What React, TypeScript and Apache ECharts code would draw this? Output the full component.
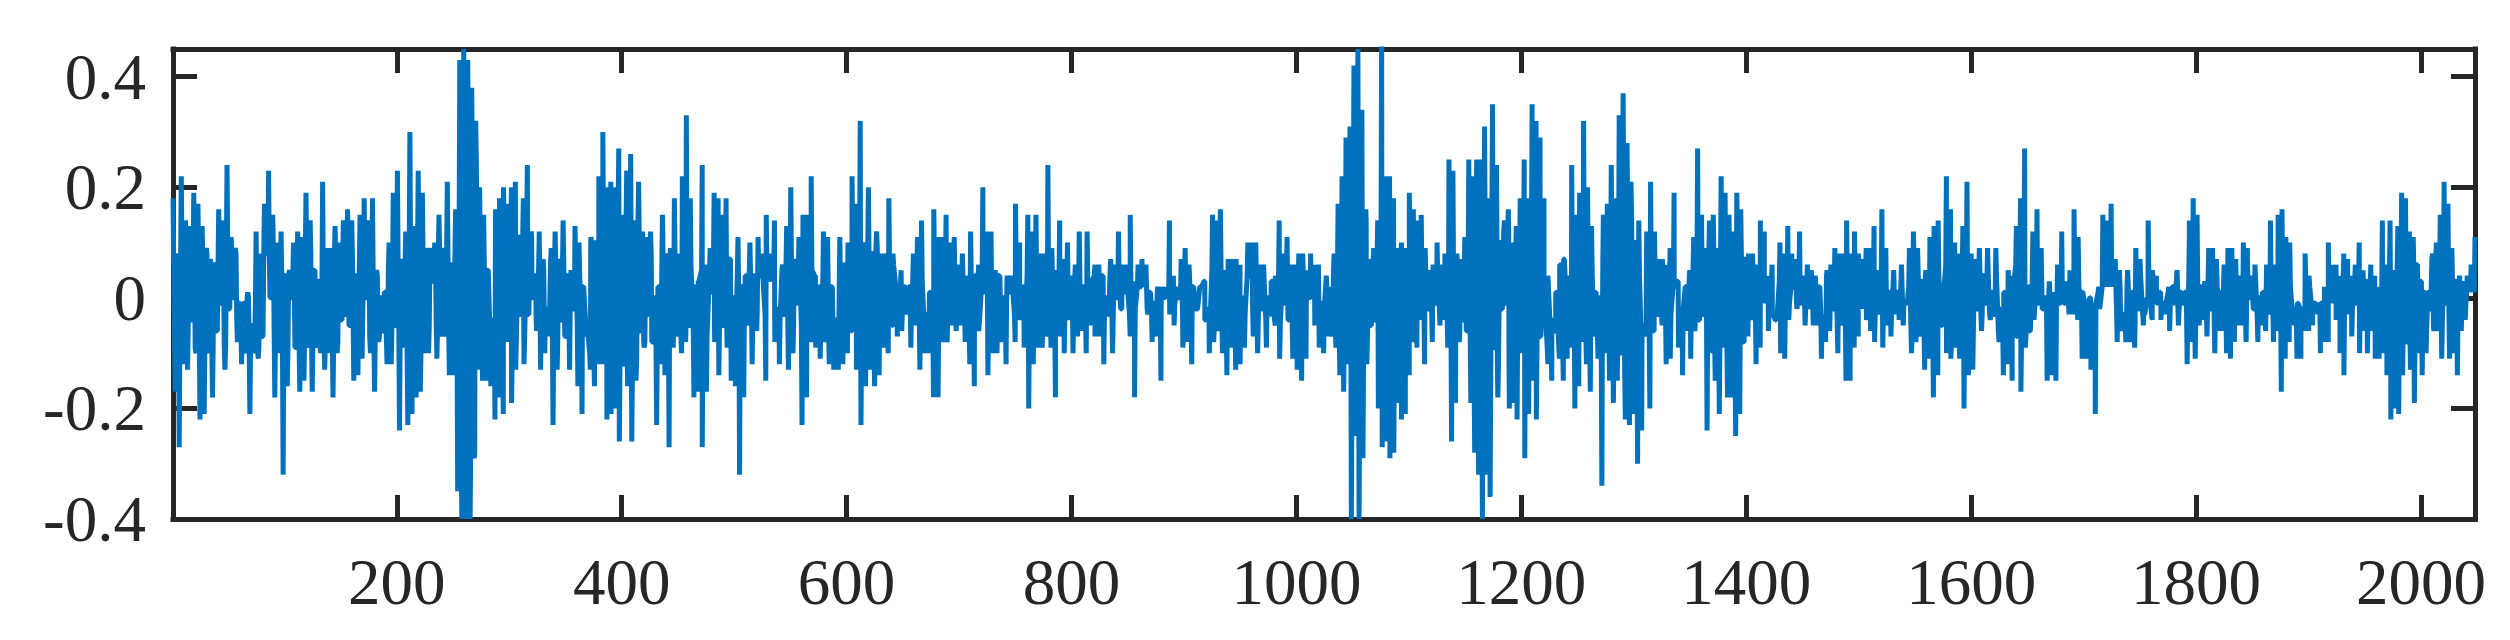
import React, { useEffect, useRef } from "react";
import * as echarts from "echarts";

const segmentEdges = [1, 256, 514, 772, 1030, 1287, 1545, 1794, 2048];

const peaks1 = [18,8,22,14,13,19,17,13,9,7,6,16,14,24,11,9,-1,-1,1,-5,12,8,17,23,15,10,12,4,5,10,12,11,19,14,5,3,21,9,9,13,10,14,16,14,4,15,18,14,18,5,0,1,10,19,23,7,12,30,13,23,19,9,9,10,15,9,21,6,16,43];
const troughs1 = [-17,-27,-12,-13,-4,-10,-22,-21,-10,-18,-6,-1,-13,-2,0,-8,-12,-10,-21,-10,-11,-7,8,0,-18,-10,-32,-16,0,-9,-17,-15,-9,-17,-9,-10,-13,-10,-18,-10,-4,-3,-5,-15,-14,-11,0,-10,-17,-8,-6,-12,-12,-5,-24,-9,-23,-21,-18,-17,-10,-10,3,-11,-7,-7,-14,-14,-35];
const bandTop1 = [7,8,6,8,0,8,4,8,3,8,6,4,6,8,8,8];
const bandBottom1 = [-5,-9,-9,-4,-9,-6,-9,-8,-8,-8,-3,-7,-6,-10,-5,-6];

const peaks2 = [29,45,43,38,32,20,15,5,-4,16,18,20,17,20,21,11,18,24,12,4,12,7,-2,9,12,7,14,4,5,13,10,2,-6,11,10,22,30,20,21,20,27,15,23,26,14,21,12,11,12,0,2,15,8,9,18,8,22,33,18,2,3,24,6,9,19,18,15,18,7,0,11,2,4,10];
const troughs2 = [-40,-40,-40,-29,-13,-15,-15,-16,-22,-18,-21,-8,-19,-13,-3,-12,-3,0,-6,-13,-10,-7,-23,-13,-4,-7,-13,-2,-16,-21,-7,-13,-16,-12,-12,-22,-21,-20,-26,-12,-16,-26,-15,-6,-9,-3,-8,-23,-12,-14,-27,-9,-7,-10,-8,-5,-18,-17,-27,-17,1,-8,-14,-5,-9,-15,-16,-32,-18,-5];
const bandTop2 = [25,6,12,11,5,6,4,10,13,13,8,7,6,5,7,4];
const bandBottom2 = [-28,-8,-10,-7,-3,-7,-4,-10,-11,-12,-8,-5,-6,-7,-5,-4];

const peaks3 = [10,4,11,8,15,8,14,-2,6,13,20,7,11,15,15,22,4,2,12,11,2,-4,11,6,10,22,17,32,10,20,8,12,8,8,18,8,1,5,2,2,8,11,14,-3,1,16,11,11,15,10,11,6,8,4,12,4,6,20,12,12,5,4,0,4,4,17,10,2,15,12,15,8];
const troughs3 = [-12,-6,4,-15,3,-8,-12,-3,-13,-10,-1,-23,-18,-8,-9,-11,-8,-12,-13,-13,-12,-10,-6,-13,-23,-16,-13,-16,-14,-9,-10,-5,-7,-6,-3,-9,-5,-13,-10,-10,-18,-18,-8,-8,-5,-6,-5,-8,-12,-16,-6,1,-14,-10,-10,-8,-12,1,-8,-4,-9,-20,-12,-9];
const bandTop3 = [4,5,6,5,3,7,9,6,2,3,5,3,4,4,3,4];
const bandBottom3 = [-3,-4,-5,-5,-6,-6,-7,-5,-2,-3,-4,-3,-4,-4,-3,-5];

const peaks4 = [4,8,24,9,5,14,7,10,4,6,12,2,12,3,6,6,4,0,7,6,12,6,6,15,3,6,7,6,1,-1,2,2,2,14,4,2,7,9,6,2,-2,2,3,-2,15,14,16,5,7,7,7,6,0,10,10,10,6,6,0,3,4,14,8,11,6,6,8,8,5,8,6,6,-1,4,1];
const troughs4 = [-9,-7,-9,-18,-7,-10,-4,-10,-7,-6,-10,-5,-7,-7,-12,-3,-10,0,-2,1,-7,-18,2,3,-3,-8,-7,-15,0,-3,-5,0,-9,-8,-12,-2,2,-4,-10,-8,-6,-10,-14,-9,-13,-12,-9,4,-7,-10,-2,-9,-3,-5,-11,-1,-4,-11,-13,-15,-11,0,-5,-9,-10,-7];
const bandTop4 = [4,3,3,4,3,2,1,1,3,5,3,4,3,4,3,2];
const bandBottom4 = [-4,-3,-3,-3,-3,-2,-2,-1,-3,-5,-3,-3,-4,-5,-4,-2];

const peaks5 = [2,8,17,22,29,31,42,45,34,16,7,9,14,50,22,22,18,9,10,9,19,16,14,15,9,5,6,10,6,8,25,23,8,7,11,25,22,25,25,31,18,35,24,10,14,16,10,13,18,25,18,35,32,29,18,4,-4,1,6,7,4,24,15,19,32,20,13,1,0,15,17,24,18,32];
const troughs5 = [-7,-9,-14,-17,-12,-40,-25,-40,-29,-12,-5,-4,-20,-27,-26,-29,-28,-19,-22,-21,-14,-8,-9,-4,-12,-2,-8,-1,-5,-4,-9,-26,-19,-8,-4,-6,-19,-28,-32,-40,-32,-36,-9,-18,-2,-1,-20,-19,-22,-10,-29,-21,-15,-22,-7,2,-12,-15,-6,-11,-15,-11,-9,-20,-16,-8,-12,-17,-7,-11,-34,-10,-15,-19,-15];
const bandTop5 = [5,14,6,7,4,3,3,5,12,12,5,7,10,3,5,7];
const bandBottom5 = [-6,-10,-7,-9,-4,-2,-2,-6,-13,-12,-3,-8,-9,-3,-6,-6];

const peaks6 = [33,37,28,21,10,14,-5,12,21,12,7,7,6,9,19,3,-2,2,5,11,27,15,9,14,15,9,22,19,15,12,19,16,7,8,8,6,14,12,4,6,-4,10,8,13,8,7,12,4,6,5,4,2,-4,5,6,9,8,8,14,8,12,8,7,9,9,13,5,16,9,1,5,1,6,-1,8];
const troughs6 = [-10,-22,-23,-21,-30,-24,-7,-20,-6,-3,-5,-12,-11,2,-9,-14,-6,-11,-6,-4,-3,-24,-10,-15,-21,-9,-18,-18,-25,-21,-8,-7,-4,-12,-9,-1,-6,-3,-4,-10,-11,-4,2,-2,-1,-5,-2,-5,-5,-11,-8,-6,-2,-10,-5,-15,-15,-9,-7,-2,-4,-6,-8,-3,-9,-5,-7,-3,-4,-5,-1];
const bandTop6 = [14,4,4,3,5,7,7,4,3,2,1,4,4,5,3,2];
const bandBottom6 = [-13,-6,-3,-2,-4,-7,-9,-3,-3,-1,-1,-3,-4,-3,-2,-1];

const peaks7 = [9,12,9,3,5,11,13,14,-1,22,16,10,8,13,21,8,7,9,4,9,1,9,-2,1,5,4,13,18,27,2,12,16,9,0,3,1,6,12,3,5,16,11,1,-4,0,-4,2,15,14,17,7,5,-3,5,1,9,7,-3,14,5,4,1,-1,2,2,5,1,1,11];
const troughs7 = [-10,-8,-7,-13,-11,-18,-14,-5,-10,-11,-9,-11,-20,-14,-13,-2,-6,-1,-4,-3,-8,-14,-12,-15,-7,-17,-9,-6,-4,-1,-2,-15,-14,-15,-1,-1,-3,-3,-4,-11,-11,-13,-21,-2,4,6,4,-8,-6,-8,-8,-9,-2,-5,0,-4,-1,-4,-3,-6,-1,-5,-1,-12];
const bandTop7 = [4,4,6,4,4,1,6,3,0,2,1,2,2,4,1,3];
const bandBottom7 = [-5,-6,-7,-5,-3,-6,-7,-2,-2,-1,-1,-2,-5,-3,-1,-2];

const peaks8 = [14,18,15,2,3,9,9,7,1,6,9,9,7,4,10,9,4,6,0,1,6,14,6,15,16,11,10,-2,-1,-2,8,4,-1,-2,-1,2,10,6,6,4,8,7,4,6,10,5,3,6,4,2,14,6,14,5,13,19,18,12,11,6,3,1,1,8,10,15,21,17,9,3,4,3,4,6,11];
const troughs8 = [-8,-11,-5,-4,-7,-2,-10,-6,-6,-10,-11,-8,-5,-5,-8,0,-2,-8,-5,-6,-3,-8,-6,-17,-11,-8,-5,-11,-11,-6,-6,-5,-3,-10,-8,-8,-1,-4,-10,-14,-3,-7,-1,-10,-6,-10,-6,-11,-11,-10,-14,-22,-20,-21,-14,-8,-13,-19,-10,-14,-10,-2,-6,-6,-11,-1,-11,-10,-14,-6,-4,3,3];
const bandTop8 = [2,3,2,3,2,2,2,1,2,3,1,4,7,7,4,1];
const bandBottom8 = [-2,-3,-2,-3,-2,-3,-2,-1,-1,-2,-1,-4,-8,-5,-4,-1];

const yTickValues = [-0.4, -0.2, 0, 0.2, 0.4];
const yTickLabels = ["-0.4", "-0.2", "0", "0.2", "0.4"];
const xTickValues = [200, 400, 600, 800, 1000, 1200, 1400, 1600, 1800, 2000];

const segments = [
  { hi: peaks1, lo: troughs1, top: bandTop1, bottom: bandBottom1 },
  { hi: peaks2, lo: troughs2, top: bandTop2, bottom: bandBottom2 },
  { hi: peaks3, lo: troughs3, top: bandTop3, bottom: bandBottom3 },
  { hi: peaks4, lo: troughs4, top: bandTop4, bottom: bandBottom4 },
  { hi: peaks5, lo: troughs5, top: bandTop5, bottom: bandBottom5 },
  { hi: peaks6, lo: troughs6, top: bandTop6, bottom: bandBottom6 },
  { hi: peaks7, lo: troughs7, top: bandTop7, bottom: bandBottom7 },
  { hi: peaks8, lo: troughs8, top: bandTop8, bottom: bandBottom8 },
];

// Peaks and troughs are the read extremes; band levels are the read edges of the solid core.
function buildSeries(): number[][] {
  const out: number[][] = [];
  segments.forEach(({ hi, lo, top, bottom }, s) => {
    const start = segmentEdges[s];
    const end = segmentEdges[s + 1];
    const span = end - start;
    const pts: { x: number; y: number; up: boolean }[] = [];
    hi.forEach((v, i) => pts.push({ x: start + (span * i) / (hi.length - 1), y: v, up: true }));
    lo.forEach((v, i) => pts.push({ x: start + (span * (i + 0.5)) / lo.length, y: v, up: false }));
    pts.sort((a, b) => a.x - b.x);
    const level = (p: { x: number; y: number; up: boolean }) => {
      const bin = Math.min(top.length - 1, Math.floor(((p.x - start) / span) * top.length));
      return p.up ? Math.min(top[bin], p.y) : Math.max(bottom[bin], p.y);
    };
    pts.forEach((p, i) => {
      out.push([p.x, p.y / 100]);
      const q = pts[i + 1];
      if (!q) return;
      const nudge = Math.min(0.6, (q.x - p.x) / 3);
      out.push([p.x + nudge, level(p) / 100]);
      out.push([q.x - nudge, level(q) / 100]);
    });
  });
  return out;
}

const INK = "#262626";
const BLUE = "#0072BD";
const FONT = "Liberation Serif";

export default function App() {
  const ref = useRef<HTMLDivElement>(null);
  useEffect(() => {
    const chart = echarts.init(ref.current!, undefined, { renderer: "svg" });
    const line = { show: true, onZero: false, lineStyle: { color: INK, width: 5, cap: "square" } };
    const tick = (values: number[]) => ({
      show: true, inside: true, length: 24, customValues: values,
      lineStyle: { color: INK, width: 5 },
    });
    const xBase = { type: "value", min: 1, max: 2048, splitLine: { show: false }, axisLine: line, axisTick: tick(xTickValues) };
    const yBase = { type: "value", min: -0.4, max: 0.45, splitLine: { show: false }, axisLine: line, axisTick: tick(yTickValues) };
    chart.setOption({
      animation: false,
      backgroundColor: "#ffffff",
      grid: { left: 173, right: 35, top: 49, bottom: 121 },
      xAxis: [
        {
          ...xBase, position: "bottom",
          axisLabel: { show: true, customValues: xTickValues, margin: 30, color: INK, fontFamily: FONT, fontSize: 65, formatter: (v: number) => String(v) },
        },
        { ...xBase, position: "top", axisLabel: { show: false } },
      ],
      yAxis: [
        {
          ...yBase, position: "left",
          axisLabel: {
            show: true, customValues: yTickValues, margin: 27, color: INK, fontFamily: FONT, fontSize: 65,
            formatter: (v: number) => yTickLabels[yTickValues.findIndex((t) => Math.abs(t - v) < 1e-6)] ?? "",
          },
        },
        { ...yBase, position: "right", axisLabel: { show: false } },
      ],
      series: [{
        type: "line", xAxisIndex: 0, yAxisIndex: 0, data: buildSeries(),
        showSymbol: false, symbol: "none", clip: true, smooth: false,
        lineStyle: { color: BLUE, width: 5, join: "bevel" }, z: 5,
      }],
    });
    return () => chart.dispose();
  }, []);
  return <div ref={ref} style={{ position: "absolute", left: 0, top: 0, width: 2510, height: 640 }} />;
}
